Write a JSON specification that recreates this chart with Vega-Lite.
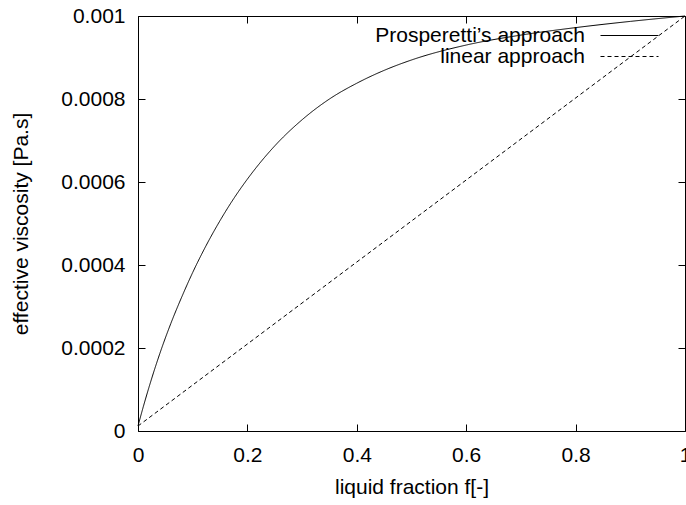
{
  "$schema": "https://vega.github.io/schema/vega-lite/v6.json",
  "width": 547,
  "height": 415,
  "autosize": {"type": "none"},
  "padding": {"left": 138, "top": 16, "right": 1, "bottom": 74},
  "background": "white",
  "config": {
    "font": "Liberation Sans",
    "view": {"stroke": "black", "strokeWidth": 1},
    "axis": {
      "domain": false,
      "grid": false,
      "ticks": true,
      "tickSize": 7,
      "offset": -7,
      "tickColor": "black",
      "tickWidth": 1,
      "labelFontSize": 21,
      "labelColor": "black",
      "labelFlush": false,
      "labelOverlap": false,
      "labelBound": false,
      "titleFontSize": 21,
      "titleFontWeight": "normal",
      "titleColor": "black"
    },
    "legend": {
      "orient": "none",
      "legendX": 462,
      "padding": 0,
      "title": null,
      "symbolType": "stroke",
      "symbolSize": 3364,
      "symbolStrokeWidth": 1,
      "symbolStrokeColor": "black",
      "labelFontSize": 21,
      "labelColor": "black",
      "labelAlign": "right",
      "labelOffset": -74,
      "rowPadding": 0,
      "labelLimit": 400
    }
  },
  "datasets": {
    "curves": [
      {"f": 0, "mu": 0.000012, "series": "Prosperetti’s approach"},
      {"f": 0.01, "mu": 0.00006, "series": "Prosperetti’s approach"},
      {"f": 0.02, "mu": 0.000105, "series": "Prosperetti’s approach"},
      {"f": 0.04, "mu": 0.000187, "series": "Prosperetti’s approach"},
      {"f": 0.06, "mu": 0.000259, "series": "Prosperetti’s approach"},
      {"f": 0.08, "mu": 0.000323, "series": "Prosperetti’s approach"},
      {"f": 0.1, "mu": 0.000382, "series": "Prosperetti’s approach"},
      {"f": 0.125, "mu": 0.000448, "series": "Prosperetti’s approach"},
      {"f": 0.15, "mu": 0.000507, "series": "Prosperetti’s approach"},
      {"f": 0.175, "mu": 0.00056, "series": "Prosperetti’s approach"},
      {"f": 0.2, "mu": 0.000607, "series": "Prosperetti’s approach"},
      {"f": 0.25, "mu": 0.000687, "series": "Prosperetti’s approach"},
      {"f": 0.3, "mu": 0.00075, "series": "Prosperetti’s approach"},
      {"f": 0.35, "mu": 0.0008, "series": "Prosperetti’s approach"},
      {"f": 0.4, "mu": 0.000838, "series": "Prosperetti’s approach"},
      {"f": 0.45, "mu": 0.000869, "series": "Prosperetti’s approach"},
      {"f": 0.5, "mu": 0.000894, "series": "Prosperetti’s approach"},
      {"f": 0.6, "mu": 0.00093, "series": "Prosperetti’s approach"},
      {"f": 0.7, "mu": 0.000954, "series": "Prosperetti’s approach"},
      {"f": 0.8, "mu": 0.000972, "series": "Prosperetti’s approach"},
      {"f": 0.9, "mu": 0.000987, "series": "Prosperetti’s approach"},
      {"f": 1, "mu": 0.001, "series": "Prosperetti’s approach"},
      {"f": 0, "mu": 0.000012, "series": "linear approach"},
      {"f": 1, "mu": 0.001, "series": "linear approach"}
    ]
  },
  "data": {"name": "curves"},
  "layer": [
    {
      "mark": {"type": "line", "strokeWidth": 1, "interpolate": "monotone"},
      "encoding": {
        "x": {
          "field": "f",
          "type": "quantitative",
          "scale": {"domain": [0, 1], "nice": false},
          "axis": {
            "orient": "bottom",
            "title": "liquid fraction f[-]",
            "values": [0, 0.2, 0.4, 0.6, 0.8, 1],
            "format": "~g",
            "labelPadding": 13,
            "titlePadding": 11
          }
        },
        "y": {
          "field": "mu",
          "type": "quantitative",
          "scale": {"domain": [0, 0.001], "nice": false},
          "axis": {
            "orient": "left",
            "title": "effective viscosity [Pa.s]",
            "values": [0, 0.0002, 0.0004, 0.0006, 0.0008, 0.001],
            "format": "~g",
            "labelPadding": 13,
            "titlePadding": 29
          }
        },
        "color": {
          "field": "series",
          "type": "nominal",
          "scale": {"domain": ["Prosperetti’s approach", "linear approach"], "range": ["black", "black"]},
          "legend": {"values": ["Prosperetti’s approach"], "legendY": -10, "symbolStrokeColor": "black"}
        },
        "strokeDash": {
          "field": "series",
          "type": "nominal",
          "scale": {"domain": ["linear approach", "Prosperetti’s approach"], "range": [[4, 3], [1, 0]]},
          "legend": {"values": ["linear approach"], "legendY": 11, "symbolStrokeColor": "black"}
        }
      }
    },
    {
      "mark": {"type": "line", "opacity": 0},
      "encoding": {
        "x": {
          "field": "f",
          "type": "quantitative",
          "axis": {"orient": "top", "title": null, "labels": false, "values": [0, 0.2, 0.4, 0.6, 0.8, 1]}
        },
        "y": {
          "field": "mu",
          "type": "quantitative",
          "axis": {"orient": "right", "title": null, "labels": false, "values": [0, 0.0002, 0.0004, 0.0006, 0.0008, 0.001]}
        },
        "detail": {"field": "series"}
      }
    }
  ],
  "resolve": {"axis": {"x": "independent", "y": "independent"}}
}
